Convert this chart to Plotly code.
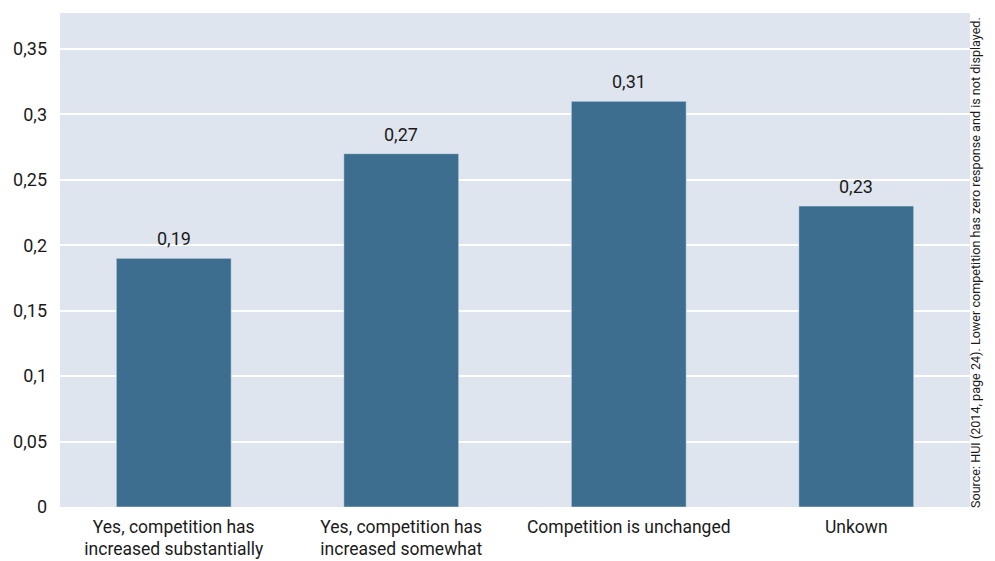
import plotly.graph_objects as go

categories = [
    "Yes, competition has<br>increased substantially",
    "Yes, competition has<br>increased somewhat",
    "Competition is unchanged",
    "Unkown",
]
shares = [0.19, 0.27, 0.31, 0.23]
tick_vals = [0, 0.05, 0.1, 0.15, 0.2, 0.25, 0.3, 0.35]
tick_text = ["0", "0,05", "0,1", "0,15", "0,2", "0,25", "0,3", "0,35"]
source_note = "Source: HUI (2014, page 24). Lower competition has zero response and is not displayed."

FONT = "Roboto"
INK = "#1a1a1a"

fig = go.Figure(
    go.Bar(
        x=categories,
        y=shares,
        marker_color="#3d6e8f",
        hoverinfo="x+y",
    )
)

# value labels sitting above each bar
annotations = [
    dict(
        x=cat,
        y=val,
        xref="x",
        yref="y",
        text=f"{val:g}".replace(".", ","),
        showarrow=False,
        yanchor="bottom",
        yshift=7,
        font=dict(family=FONT, size=18, color=INK),
    )
    for cat, val in zip(categories, shares)
]

annotations.append(
    dict(
        text=source_note,
        xref="paper",
        yref="paper",
        x=1.0,
        xshift=15,
        y=0,
        yanchor="bottom",
        yshift=-3,
        showarrow=False,
        textangle=-90,
        font=dict(family=FONT, size=12.6, color=INK),
    )
)

fig.update_layout(
    width=995,
    height=561,
    margin=dict(l=60, r=25, t=13, b=54, autoexpand=False),
    paper_bgcolor="white",
    plot_bgcolor="#dfe5ee",
    bargap=0.495,
    showlegend=False,
    font=dict(family=FONT, size=18, color=INK),
    xaxis=dict(
        showgrid=False,
        ticks="",
        ticklabelstandoff=7,
        tickfont=dict(size=17.5),
        automargin=False,
    ),
    yaxis=dict(
        range=[0, 0.3775],
        tickvals=tick_vals,
        ticktext=tick_text,
        gridcolor="white",
        gridwidth=2,
        zeroline=False,
        ticks="",
        ticklabelstandoff=12,
        tickfont=dict(size=18),
        automargin=False,
    ),
    annotations=annotations,
)

fig.write_html("out.html")
